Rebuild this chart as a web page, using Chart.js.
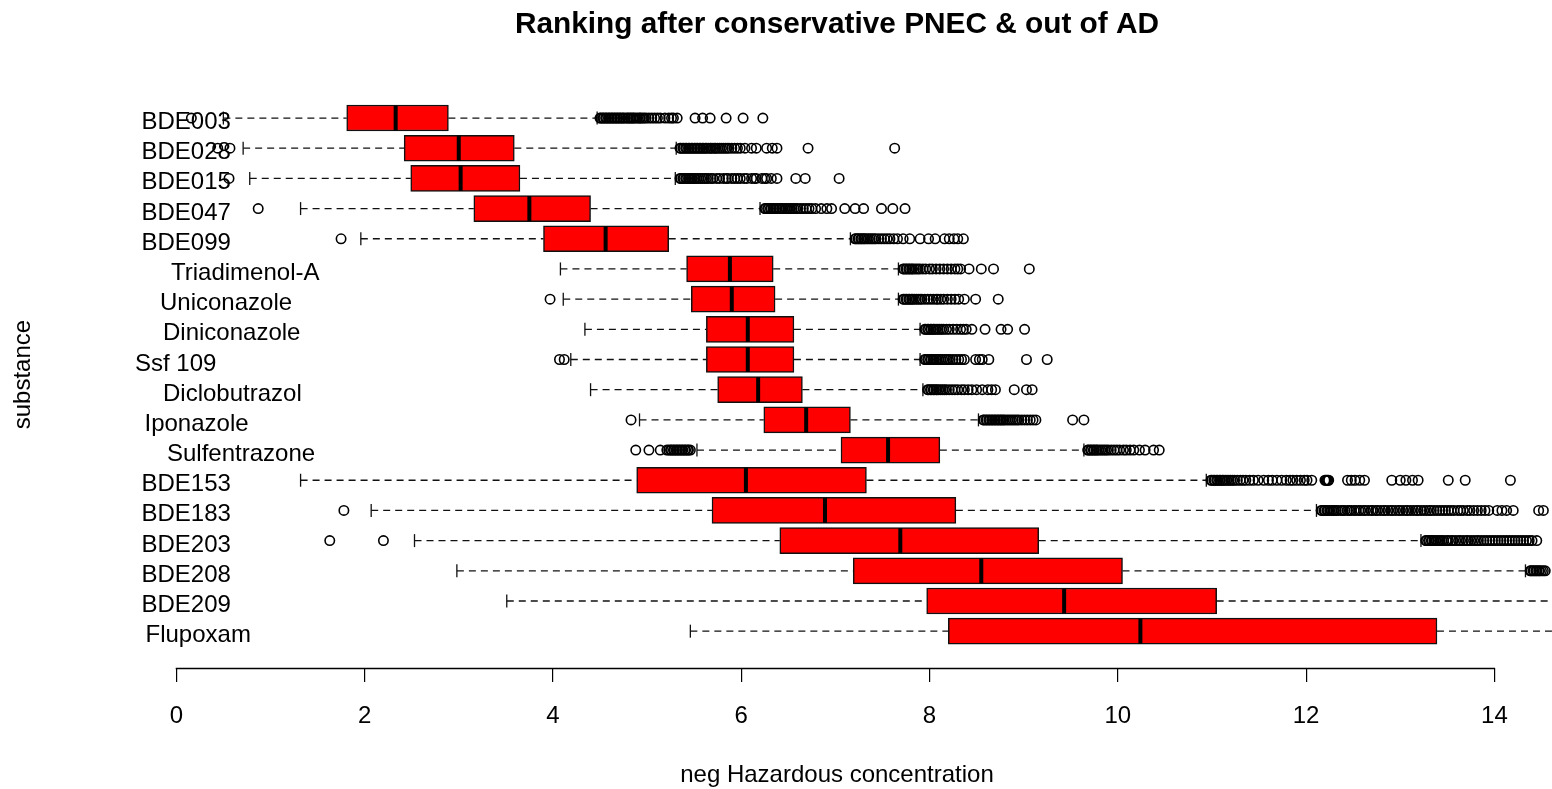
<!DOCTYPE html>
<html>
<head>
<meta charset="utf-8">
<title>Ranking after conservative PNEC &amp; out of AD</title>
<script src="https://cdn.jsdelivr.net/npm/chart.js@4.4.1/dist/chart.umd.min.js"></script>
<style>
html, body { margin: 0; padding: 0; background: #fff; overflow: hidden; }
canvas { display: block; }
</style>
</head>
<body>
<canvas id="chart" width="1552" height="789"></canvas>
<script>
// Substances, top to bottom
const substances = ['BDE003', 'BDE028', 'BDE015', 'BDE047', 'BDE099', 'Triadimenol-A', 'Uniconazole',
  'Diniconazole', 'Ssf 109', 'Diclobutrazol', 'Iponazole', 'Sulfentrazone', 'BDE153', 'BDE183',
  'BDE203', 'BDE208', 'BDE209', 'Flupoxam'];

// Five-number summaries (neg Hazardous concentration)
const whiskerLow  = [0.50, 0.71, 0.78, 1.32, 1.96, 4.08, 4.11, 4.34, 4.19, 4.40, 4.92, 5.53, 1.32, 2.07, 2.53, 2.98, 3.51, 5.46];
const q1          = [1.81, 2.42, 2.49, 3.16, 3.90, 5.42, 5.47, 5.63, 5.63, 5.75, 6.24, 7.06, 4.89, 5.69, 6.41, 7.19, 7.97, 8.20];
const median      = [2.33, 3.00, 3.02, 3.75, 4.56, 5.88, 5.90, 6.07, 6.07, 6.18, 6.69, 7.56, 6.05, 6.89, 7.69, 8.55, 9.43, 10.24];
const q3          = [2.89, 3.59, 3.65, 4.40, 5.23, 6.34, 6.36, 6.56, 6.56, 6.65, 7.16, 8.11, 7.33, 8.28, 9.16, 10.05, 11.05, 13.39];
const whiskerHigh = [4.47, 5.31, 5.30, 6.20, 7.16, 7.67, 7.67, 7.90, 7.90, 7.93, 8.52, 9.64, 10.94, 12.11, 13.22, 14.33, 15.60, 17.50];

// Outlying values per substance
const outBDE003 = [0.16, 4.50, 4.51, 4.53, 4.54, 4.56, 4.57, 4.59, 4.60, 4.62, 4.63, 4.65, 4.66, 4.68, 4.69, 4.71, 4.72,
  4.74, 4.75, 4.77, 4.79, 4.80, 4.82, 4.83, 4.85, 4.86, 4.88, 4.90, 4.92, 4.93, 4.95, 4.97, 4.99, 5.02, 5.05, 5.08,
  5.11, 5.14, 5.19, 5.23, 5.26, 5.28, 5.32, 5.51, 5.59, 5.67, 5.84, 6.02, 6.23];
const outBDE028 = [0.44, 0.57, 5.35, 5.36, 5.38, 5.39, 5.41, 5.42, 5.44, 5.45, 5.47, 5.48, 5.50, 5.51, 5.53, 5.54, 5.56,
  5.57, 5.59, 5.60, 5.62, 5.63, 5.65, 5.67, 5.68, 5.70, 5.72, 5.73, 5.75, 5.77, 5.79, 5.81, 5.83, 5.85, 5.87, 5.90,
  5.93, 5.96, 5.99, 6.04, 6.11, 6.16, 6.27, 6.33, 6.38, 6.71, 7.63];
const outBDE015 = [0.56, 5.35, 5.36, 5.38, 5.39, 5.41, 5.42, 5.44, 5.45, 5.47, 5.48, 5.50, 5.51, 5.53, 5.55, 5.57, 5.59,
  5.61, 5.63, 5.65, 5.68, 5.70, 5.74, 5.77, 5.81, 5.84, 5.86, 5.90, 5.93, 5.96, 5.99, 6.03, 6.06, 6.11, 6.14, 6.16,
  6.22, 6.25, 6.27, 6.32, 6.38, 6.58, 6.68, 7.04];
const outBDE047 = [0.87, 6.25, 6.26, 6.28, 6.29, 6.31, 6.32, 6.34, 6.35, 6.37, 6.38, 6.40, 6.41, 6.43, 6.44, 6.46, 6.48,
  6.50, 6.52, 6.54, 6.56, 6.58, 6.60, 6.63, 6.66, 6.69, 6.72, 6.75, 6.79, 6.85, 6.91, 6.96, 7.10, 7.21, 7.30, 7.49,
  7.61, 7.74];
const outBDE099 = [1.75, 7.21, 7.22, 7.24, 7.25, 7.27, 7.28, 7.30, 7.31, 7.33, 7.35, 7.37, 7.39, 7.41, 7.43, 7.46, 7.49,
  7.52, 7.55, 7.58, 7.62, 7.66, 7.72, 7.79, 7.90, 7.99, 8.06, 8.16, 8.21, 8.26, 8.30, 8.36];
const outTriadimenolA = [7.72, 7.73, 7.75, 7.76, 7.78, 7.79, 7.81, 7.82, 7.84, 7.86, 7.88, 7.90, 7.93, 7.96, 8.00, 8.03,
  8.07, 8.11, 8.15, 8.19, 8.23, 8.27, 8.30, 8.33, 8.42, 8.55, 8.68, 9.06];
const outUniconazole = [3.97, 7.72, 7.73, 7.75, 7.76, 7.78, 7.79, 7.81, 7.82, 7.84, 7.86, 7.88, 7.90, 7.92, 7.95, 7.98,
  8.01, 8.04, 8.07, 8.09, 8.12, 8.15, 8.19, 8.23, 8.27, 8.31, 8.37, 8.49, 8.73];
const outDiniconazole = [7.95, 7.96, 7.98, 7.99, 8.01, 8.02, 8.04, 8.05, 8.07, 8.09, 8.11, 8.13, 8.15, 8.18, 8.21, 8.25,
  8.29, 8.33, 8.36, 8.39, 8.45, 8.59, 8.76, 8.83, 9.01];
const outSsf109 = [4.07, 4.12, 7.95, 7.96, 7.98, 7.99, 8.01, 8.02, 8.04, 8.05, 8.07, 8.08, 8.10, 8.12, 8.14, 8.16, 8.18,
  8.20, 8.22, 8.25, 8.28, 8.31, 8.34, 8.37, 8.49, 8.53, 8.56, 8.63, 9.03, 9.25];
const outDiclobutrazol = [7.98, 7.99, 8.01, 8.02, 8.04, 8.05, 8.07, 8.08, 8.10, 8.12, 8.14, 8.16, 8.18, 8.21, 8.24, 8.27,
  8.30, 8.34, 8.37, 8.41, 8.45, 8.50, 8.56, 8.62, 8.66, 8.70, 8.90, 9.03, 9.09];
const outIponazole = [4.83, 8.57, 8.58, 8.60, 8.61, 8.63, 8.64, 8.66, 8.67, 8.69, 8.70, 8.72, 8.73, 8.75, 8.76, 8.78,
  8.79, 8.81, 8.83, 8.85, 8.87, 8.89, 8.91, 8.93, 8.95, 8.98, 9.01, 9.04, 9.07, 9.10, 9.13, 9.52, 9.64];
const outSulfentrazone = [4.88, 5.02, 5.14, 5.21, 5.23, 5.25, 5.26, 5.28, 5.29, 5.31, 5.32, 5.34, 5.35, 5.37, 5.38, 5.40,
  5.41, 5.43, 5.44, 5.46, 9.68, 9.69, 9.71, 9.72, 9.74, 9.75, 9.77, 9.78, 9.80, 9.82, 9.84, 9.86, 9.88, 9.90, 9.93,
  9.96, 9.99, 10.02, 10.06, 10.09, 10.13, 10.17, 10.23, 10.29, 10.38, 10.44];
const outBDE153 = [10.99, 11.00, 11.02, 11.03, 11.05, 11.06, 11.08, 11.09, 11.11, 11.12, 11.14, 11.16, 11.18, 11.20,
  11.22, 11.24, 11.27, 11.30, 11.33, 11.36, 11.40, 11.44, 11.49, 11.55, 11.60, 11.64, 11.69, 11.74, 11.79, 11.83,
  11.86, 11.90, 11.94, 11.98, 12.01, 12.06, 12.20, 12.21, 12.22, 12.23, 12.24, 12.44, 12.48, 12.52, 12.57, 12.62,
  12.91, 13.00, 13.06, 13.13, 13.19, 13.51, 13.69, 14.17];
const outBDE183 = [1.78, 12.16, 12.17, 12.19, 12.20, 12.22, 12.23, 12.25, 12.27, 12.29, 12.30, 12.32, 12.34, 12.37,
  12.39, 12.41, 12.44, 12.46, 12.48, 12.51, 12.53, 12.56, 12.58, 12.61, 12.63, 12.66, 12.69, 12.71, 12.74, 12.76,
  12.79, 12.82, 12.84, 12.87, 12.90, 12.92, 12.95, 12.98, 13.00, 13.03, 13.06, 13.08, 13.11, 13.14, 13.17, 13.19,
  13.22, 13.25, 13.28, 13.31, 13.33, 13.36, 13.39, 13.42, 13.45, 13.48, 13.51, 13.54, 13.57, 13.61, 13.64, 13.67,
  13.71, 13.74, 13.78, 13.82, 13.86, 13.90, 13.94, 14.03, 14.08, 14.13, 14.20, 14.47, 14.52];
const outBDE203 = [1.63, 2.20, 13.27, 13.28, 13.30, 13.31, 13.33, 13.34, 13.36, 13.38, 13.40, 13.42, 13.44, 13.46,
  13.49, 13.51, 13.54, 13.56, 13.59, 13.62, 13.64, 13.67, 13.70, 13.72, 13.75, 13.78, 13.81, 13.83, 13.86, 13.89,
  13.92, 13.95, 13.98, 14.01, 14.04, 14.07, 14.10, 14.13, 14.16, 14.19, 14.22, 14.25, 14.28, 14.31, 14.34, 14.37,
  14.40, 14.45, 14.55, 14.64];
const outBDE208 = [14.38, 14.39, 14.41, 14.42, 14.44, 14.45, 14.47, 14.48, 14.50, 14.52, 14.54, 14.56, 14.58, 14.61,
  14.65, 14.72, 14.85];
const outBDE209 = [];
const outFlupoxam = [];

const outliers = [outBDE003, outBDE028, outBDE015, outBDE047, outBDE099, outTriadimenolA, outUniconazole,
  outDiniconazole, outSsf109, outDiclobutrazol, outIponazole, outSulfentrazone, outBDE153, outBDE183,
  outBDE203, outBDE208, outBDE209, outFlupoxam];

// x axis ticks
const xTickValues = [0, 2, 4, 6, 8, 10, 12, 14];

// Layout: left edge (px) of each substance name
const labelLeftPx = [141.5, 141.5, 141.5, 141.5, 141.5, 171, 160, 163, 135, 163, 144.5, 167,
  141.5, 141.5, 141.5, 141.5, 141.5, 145.5];

const FONT = '"Liberation Sans", Arial, Helvetica, sans-serif';
Chart.defaults.font.family = FONT;
Chart.defaults.color = '#000';

// Plot region in pixels and the value range it covers
const AREA_LEFT = 135, AREA_RIGHT = 1539, ZERO_PX = 176.3, PX_PER_UNIT = 94.15;

// Build datasets from the arrays above
const boxData = substances.map((s, i) => ({ x: [q1[i], q3[i]], y: i }));
const medianData = substances.map((s, i) => ({ x: median[i], y: i }));
const capData = [];
const whiskerData = [];
substances.forEach((s, i) => {
  capData.push({ x: whiskerLow[i], y: i }, { x: whiskerHigh[i], y: i });
  whiskerData.push({ x: whiskerLow[i], y: i }, { x: q1[i], y: i }, { x: NaN, y: i },
                   { x: q3[i], y: i }, { x: whiskerHigh[i], y: i }, { x: NaN, y: i });
});
const outlierData = [];
outliers.forEach((vals, i) => vals.forEach(v => outlierData.push({ x: v, y: i })));

// Substance names drawn inside the plotting region
const substanceLabels = {
  id: 'substanceLabels',
  afterDatasetsDraw(chart) {
    const { ctx } = chart;
    const yScale = chart.scales.y;
    ctx.save();
    ctx.font = '24px ' + FONT;
    ctx.fillStyle = '#000';
    ctx.textAlign = 'left';
    ctx.textBaseline = 'alphabetic';
    substances.forEach((name, i) => {
      ctx.fillText(name, labelLeftPx[i], yScale.getPixelForValue(i) + 11);
    });
    ctx.restore();
  }
};

// Axis line spanning the first to the last tick only
const axisLine = {
  id: 'axisLine',
  afterDraw(chart) {
    const { ctx } = chart;
    const xScale = chart.scales.x;
    const x0 = xScale.getPixelForValue(xTickValues[0]);
    const x1 = xScale.getPixelForValue(xTickValues[xTickValues.length - 1]);
    const y = xScale.top + 0.5;
    ctx.save();
    ctx.strokeStyle = '#000';
    ctx.lineWidth = 1.3;
    ctx.beginPath();
    ctx.moveTo(x0 - 0.6, y);
    ctx.lineTo(x1 + 0.6, y);
    ctx.stroke();
    ctx.restore();
  }
};

new Chart(document.getElementById('chart'), {
  type: 'scatter',
  data: {
    datasets: [
      {
        type: 'line',
        data: whiskerData,
        borderColor: '#111',
        borderWidth: 1.3,
        borderDash: [7, 5],
        pointRadius: 0,
        pointHitRadius: 0,
        showLine: true,
        spanGaps: false,
        fill: false,
        clip: false,
        order: 5
      },
      {
        type: 'bar',
        indexAxis: 'y',
        data: boxData,
        backgroundColor: '#ff0000',
        borderColor: '#111',
        borderWidth: 1.5,
        borderSkipped: false,
        barThickness: 26,
        clip: false,
        order: 4
      },
      {
        type: 'scatter',
        data: medianData,
        pointStyle: 'line',
        pointRotation: 90,
        pointRadius: 12.5,
        pointBorderWidth: 4,
        pointBorderColor: '#000',
        clip: false,
        order: 3
      },
      {
        type: 'scatter',
        data: capData,
        pointStyle: 'line',
        pointRotation: 90,
        pointRadius: 6.5,
        pointBorderWidth: 1.3,
        pointBorderColor: '#111',
        clip: false,
        order: 3
      },
      {
        type: 'scatter',
        data: outlierData,
        pointStyle: 'circle',
        pointRadius: 4.7,
        pointBorderWidth: 1.6,
        pointBorderColor: '#000',
        pointBackgroundColor: 'rgba(0,0,0,0)',
        clip: false,
        order: 1
      }
    ]
  },
  options: {
    responsive: false,
    devicePixelRatio: 1,
    animation: false,
    events: [],
    layout: { autoPadding: false, padding: { left: 0, right: 1552 - AREA_RIGHT, top: 0, bottom: 0 } },
    plugins: {
      legend: { display: false },
      tooltip: { enabled: false },
      title: {
        display: true,
        fullSize: false,
        text: 'Ranking after conservative PNEC & out of AD',
        color: '#000',
        font: { family: FONT, size: 29.8, weight: 'bold', lineHeight: 1.2 },
        padding: { top: 7, bottom: 38.44 }
      }
    },
    scales: {
      x: {
        type: 'linear',
        position: 'bottom',
        offset: false,
        beginAtZero: false,
        min: (AREA_LEFT - ZERO_PX) / PX_PER_UNIT,
        max: (AREA_RIGHT - ZERO_PX) / PX_PER_UNIT,
        afterBuildTicks: (scale) => { scale.ticks = xTickValues.map(v => ({ value: v })); },
        afterFit: (scale) => { scale.height = 121; },
        ticks: {
          includeBounds: false,
          font: { size: 24, lineHeight: 1.2 },
          color: '#000',
          padding: 20,
          maxRotation: 0,
          autoSkip: false,
          callback: (v) => String(v)
        },
        grid: { display: true, offset: false, drawOnChartArea: false, drawTicks: true, tickLength: 14, color: '#000', lineWidth: 1.2 },
        border: { display: false },
        title: {
          display: true,
          text: 'neg Hazardous concentration',
          color: '#000',
          font: { size: 24, lineHeight: 1.1 },
          padding: { top: 0, bottom: 0 }
        }
      },
      y: {
        type: 'linear',
        position: 'left',
        offset: false,
        reverse: true,
        min: -1.22,
        max: substances.length - 1 + 1.22,
        afterFit: (scale) => { scale.width = AREA_LEFT; },
        ticks: { display: false },
        grid: { display: false, offset: false },
        border: { display: false },
        title: {
          display: true,
          text: 'substance',
          color: '#000',
          font: { size: 24, lineHeight: 1.2 },
          padding: { top: 9, bottom: 0 }
        }
      }
    }
  },
  plugins: [substanceLabels, axisLine]
});
</script>
</body>
</html>
